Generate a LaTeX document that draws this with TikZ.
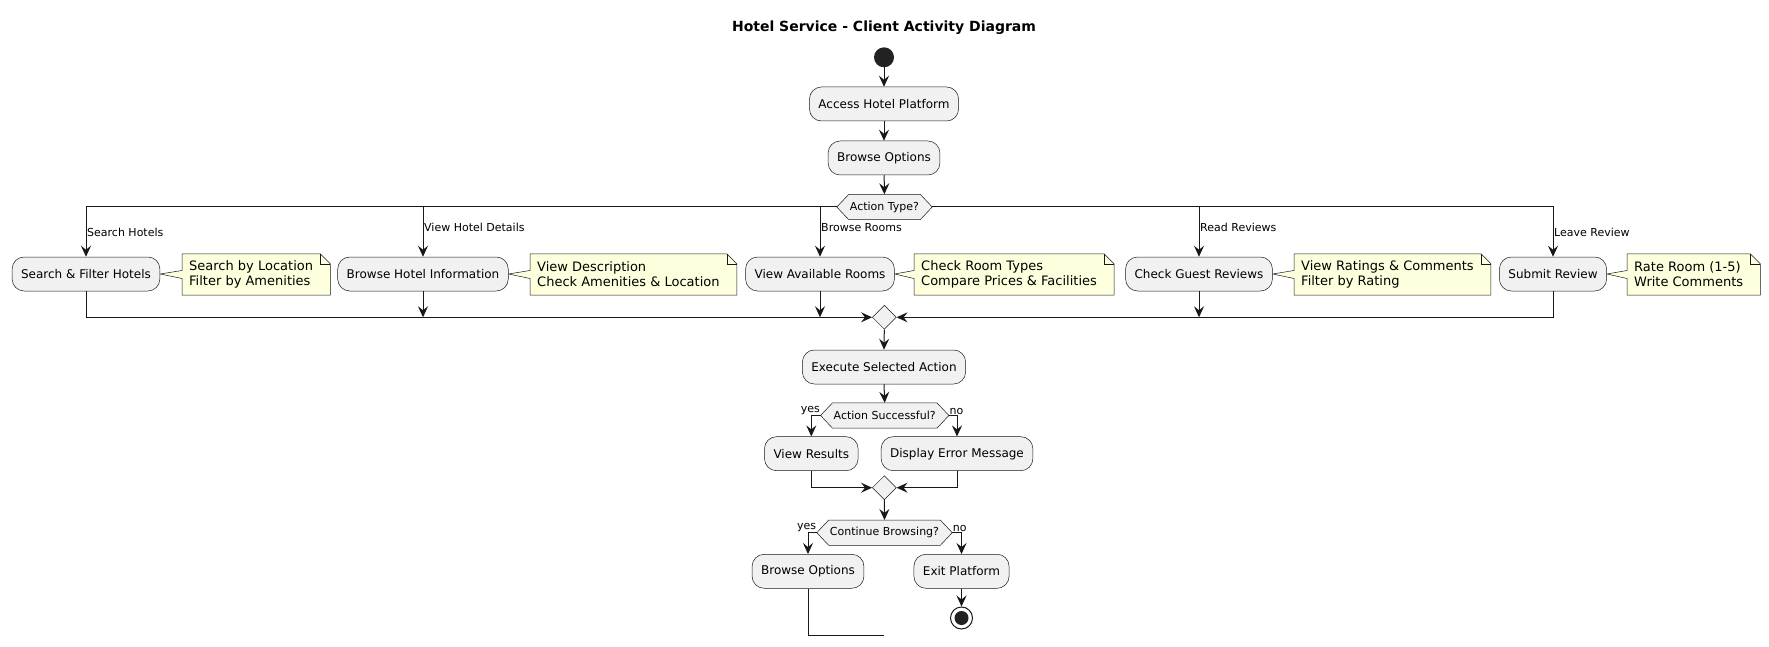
\documentclass[tikz,border=0pt]{standalone}
\usepackage{fontspec}
\setmainfont{DejaVu Sans}
\usetikzlibrary{arrows.meta,shapes.geometric}
\definecolor{ink}{HTML}{181818}
\definecolor{actfill}{HTML}{F1F1F1}
\definecolor{notefill}{HTML}{FEFFDD}
\definecolor{startc}{HTML}{222222}
\pgfdeclarelayer{bg}
\pgfsetlayers{bg,main}
\newcommand\hexdraw[1]{%
  \begin{pgfonlayer}{bg}
  \draw[hexshape] ([xshift=-12pt]#1.west) -- (#1.north west) -- (#1.north east) -- ([xshift=12pt]#1.east) -- (#1.south east) -- (#1.south west) -- cycle;
  \end{pgfonlayer}
  \coordinate (#1L) at ([xshift=-12pt]#1.west);
  \coordinate (#1R) at ([xshift=12pt]#1.east);}
\newcommand\notedraw[2]{%
  \begin{pgfonlayer}{bg}
  \draw[notebox] ([xshift=-7pt]#1.north west) -- ([xshift=7pt]#1.north east) -- ([xshift=17pt,yshift=-10pt]#1.north east) -- ([xshift=17pt]#1.south east) -- ([xshift=-7pt]#1.south west) -- ([xshift=-7pt,yshift=-4pt]#1.west) -- (#2.east) -- ([xshift=-7pt,yshift=4pt]#1.west) -- cycle;
  \draw[notebox,fill=none] ([xshift=7pt]#1.north east) -- ([xshift=7pt,yshift=-10pt]#1.north east) -- ([xshift=17pt,yshift=-10pt]#1.north east);
  \end{pgfonlayer}}
\begin{document}
\begin{tikzpicture}[x=1pt,y=-1pt,
 act/.style={draw=ink, line width=0.5pt, fill=actfill, rounded corners=12pt, minimum height=34pt, inner xsep=9pt, inner ysep=0pt, font=\fontsize{12}{14}\selectfont},
 hexlbl/.style={inner xsep=1pt, inner ysep=0pt, minimum height=25pt, font=\fontsize{11}{13}\selectfont},
 hexshape/.style={draw=ink, line width=0.5pt, fill=actfill, line join=miter},
 notetxt/.style={inner sep=0pt, minimum height=41pt, align=left, anchor=west, font=\fontsize{13}{15}\selectfont},
 notebox/.style={draw=ink, line width=0.5pt, fill=notefill, line join=miter},
 conn/.style={draw=ink, line width=1pt},
 arr/.style={conn, -{Stealth[length=11pt,width=10pt,inset=4pt]}},
 lbl/.style={inner sep=1pt, font=\fontsize{11}{13}\selectfont},
 merge/.style={diamond, draw=ink, line width=0.5pt, fill=actfill, minimum width=24pt, minimum height=24pt, inner sep=0pt},
]
\begin{pgfonlayer}{bg}
\fill[white] (0,0) rectangle (1769,647);
\end{pgfonlayer}
\useasboundingbox (0,0) rectangle (1769,647);

\node[font=\bfseries\fontsize{14}{16}\selectfont] (title) at (884,27.5) {Hotel Service - Client Activity Diagram};

\node[circle, fill=startc, minimum size=20pt, inner sep=0pt] (start) at (884,57.3) {};
\node[act] (a0) at (884,104) {Access Hotel Platform};
\node[act] (bo) at (884,158) {Browse Options};
\node[hexlbl] (d1) at (884.5,207) {Action Type?};
\hexdraw{d1}

\draw[arr] (start) -- (a0);
\draw[arr] (a0) -- (bo);
\draw[arr] (bo) -- (d1);

% branches
\node[act] (a1) at (86,274) {Search \& Filter Hotels};
\node[act] (a2) at (423,274) {Browse Hotel Information};
\node[act] (a3) at (820,274) {View Available Rooms};
\node[act] (a4) at (1199,274) {Check Guest Reviews};
\node[act] (a5) at (1553,274) {Submit Review};

\draw[arr] (d1L) -| (a1.north);
\draw[arr] (a2.north |- d1L) -- (a2.north);
\draw[arr] (a3.north |- d1L) -- (a3.north);
\draw[arr] (a4.north |- d1R) -- (a4.north);
\draw[arr] (d1R) -| (a5.north);

\node[lbl, anchor=west] (l1) at (86,232) {Search Hotels};
\node[lbl, anchor=west] (l2) at (423,227.5) {View Hotel Details};
\node[lbl, anchor=west] (l3) at (820,227.5) {Browse Rooms};
\node[lbl, anchor=west] (l4) at (1199,227.5) {Read Reviews};
\node[lbl, anchor=west] (l5) at (1553,232) {Leave Review};

% notes
\node[notetxt] (n1) at (189,274.5) {Search by Location\\Filter by Amenities};
\notedraw{n1}{a1}
\node[notetxt] (n2) at (537,274.5) {View Description\\Check Amenities \& Location};
\notedraw{n2}{a2}
\node[notetxt] (n3) at (921,274.5) {Check Room Types\\Compare Prices \& Facilities};
\notedraw{n3}{a3}
\node[notetxt] (n4) at (1301,274.5) {View Ratings \& Comments\\Filter by Rating};
\notedraw{n4}{a4}
\node[notetxt] (n5) at (1634,274.5) {Rate Room (1-5)\\Write Comments};
\notedraw{n5}{a5}

% merge 1
\node[merge] (m1) at (884.3,317.3) {};
\draw[arr] (a1.south) |- (m1.west);
\draw[arr] (a2.south) -- (a2.south |- m1.west);
\draw[arr] (a3.south) -- (a3.south |- m1.west);
\draw[arr] (a4.south) -- (a4.south |- m1.east);
\draw[arr] (a5.south) |- (m1.east);

\node[act] (ex) at (884,367) {Execute Selected Action};
\draw[arr] (m1.south) -- (ex.north);

\node[hexlbl] (d2) at (884.7,415.5) {Action Successful?};
\hexdraw{d2}
\draw[arr] (ex.south) -- (d2.north);
\node[lbl, anchor=south east, inner sep=0.5pt] (y1) at (d2L) {yes};
\node[lbl, anchor=south west, inner sep=0.5pt] (n1l) at (d2R) {no};

\node[act] (r1) at (811.3,453.7) {View Results};
\node[act] (r2) at (957,453.7) {Display Error Message};
\draw[arr] (d2L) -| (r1.north);
\draw[arr] (d2R) -| (r2.north);

\node[merge] (m2) at (884.3,487.7) {};
\draw[arr] (r1.south) |- (m2.west);
\draw[arr] (r2.south) |- (m2.east);

\node[hexlbl] (d3) at (884.5,532.7) {Continue Browsing?};
\hexdraw{d3}
\draw[arr] (m2.south) -- (d3.north);
\node[lbl, anchor=south east, inner sep=0.5pt] (y2) at (d3L) {yes};
\node[lbl, anchor=south west, inner sep=0.5pt] (n2l) at (d3R) {no};

\node[act] (b2) at (808,571.3) {Browse Options};
\node[act] (xp) at (961.5,571.3) {Exit Platform};
\draw[arr] (d3L) -| (b2.north);
\draw[arr] (d3R) -| (xp.north);

\node[circle, draw=ink, line width=1pt, fill=white, minimum size=22pt, inner sep=0pt] (stop) at (961.5,618) {};
\fill[startc] (stop.center) circle (7pt);
\draw[arr] (xp.south) -- (stop.north);

\coordinate (loopend) at (884.3,635.7);
\draw[conn] (b2.south) |- (loopend);
\end{tikzpicture}
\end{document}
